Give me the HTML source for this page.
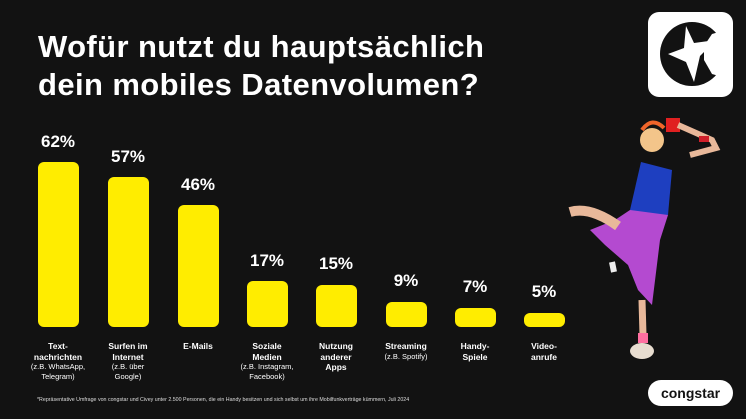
<!DOCTYPE html>
<html><head><meta charset="utf-8"><style>
body{margin:0;width:746px;height:419px;background:#121212;overflow:hidden;position:relative;font-family:"Liberation Sans",sans-serif;color:#fff}
h1{position:absolute;left:38px;top:28px;margin:0;font-size:31px;line-height:38px;font-weight:bold;letter-spacing:0.4px}
.bar{position:absolute;width:41px;background:#ffed00;border-radius:6px;bottom:92px}
.pct{position:absolute;width:80px;text-align:center;font-weight:bold;font-size:17px}
.lab{position:absolute;top:341px;width:90px;text-align:center;font-size:8.5px;font-weight:bold;line-height:10.5px}
.lab span{font-weight:normal;font-size:7.5px;display:block;line-height:10px}
.foot{position:absolute;left:37px;top:397px;font-size:5.3px;color:#ddd}
</style></head><body>
<h1>Wofür nutzt du hauptsächlich<br>dein mobiles Datenvolumen?</h1>

<div class="bar" style="left:38px;top:162px"></div><div class="pct" style="left:18px;top:132px">62%</div>
<div class="bar" style="left:108px;top:177px"></div><div class="pct" style="left:88px;top:147px">57%</div>
<div class="bar" style="left:178px;top:205px"></div><div class="pct" style="left:158px;top:175px">46%</div>
<div class="bar" style="left:247px;top:281px"></div><div class="pct" style="left:227px;top:251px">17%</div>
<div class="bar" style="left:316px;top:285px"></div><div class="pct" style="left:296px;top:254px">15%</div>
<div class="bar" style="left:386px;top:302px"></div><div class="pct" style="left:366px;top:271px">9%</div>
<div class="bar" style="left:455px;top:308px"></div><div class="pct" style="left:435px;top:277px">7%</div>
<div class="bar" style="left:524px;top:313px"></div><div class="pct" style="left:504px;top:282px">5%</div>

<div class="lab" style="left:13px">Text-<br>nachrichten<span>(z.B. WhatsApp,<br>Telegram)</span></div>
<div class="lab" style="left:83px">Surfen im<br>Internet<span>(z.B. über<br>Google)</span></div>
<div class="lab" style="left:153px">E-Mails</div>
<div class="lab" style="left:222px">Soziale<br>Medien<span>(z.B. Instagram,<br>Facebook)</span></div>
<div class="lab" style="left:291px">Nutzung<br>anderer<br>Apps</div>
<div class="lab" style="left:361px">Streaming<span>(z.B. Spotify)</span></div>
<div class="lab" style="left:430px">Handy-<br>Spiele</div>
<div class="lab" style="left:499px">Video-<br>anrufe</div>

<div class="foot">*Repräsentative Umfrage von congstar und Civey unter 2.500 Personen, die ein Handy besitzen und sich selbst um ihre Mobilfunkverträge kümmern, Juli 2024</div>

<svg style="position:absolute;left:0;top:0" width="746" height="419">
<rect x="648" y="12" width="85" height="85" rx="11" fill="#fff"/>
<circle cx="692" cy="54" r="32" fill="#121212"/>
<path d="M712,34 L726,30 L726,78 L712,74 L704,60 L704,46 Z" fill="#fff"/>
<polygon points="686,26 694,43 716,40 700,56 694,82 686,62 668,54 684,48" fill="#fff"/>
<!-- person -->
<circle cx="652" cy="140" r="12" fill="#f3c58a"/>
<path d="M642,130 q10,-14 22,-2" stroke="#f0652a" stroke-width="4" fill="none"/>
<rect x="666" y="118" width="14" height="14" fill="#e02020"/>
<path d="M678,125 L712,140 L716,148 L690,155" stroke="#e8b89a" stroke-width="6" fill="none"/>
<rect x="699" y="136" width="10" height="6" fill="#d0202a"/>
<polygon points="641,162 672,170 668,215 647,225 630,210" fill="#1e3fc0"/>
<polygon points="630,210 668,215 660,240 652,305 638,290 628,265 605,245 590,230 615,220" fill="#b44ad0"/>
<path d="M570,212 q20,-6 48,14" stroke="#e8b89a" stroke-width="10" fill="none"/>
<path d="M612,262 L614,272" stroke="#eee" stroke-width="6"/>
<path d="M642,300 L643,335" stroke="#e8b89a" stroke-width="7"/>
<rect x="638" y="333" width="10" height="10" fill="#ff6fa0"/>
<ellipse cx="642" cy="351" rx="12" ry="8" fill="#e8ddd0"/>
<rect x="648" y="380" width="85" height="26" rx="13" fill="#fff"/>
<text x="690.5" y="398" text-anchor="middle" font-family="Liberation Sans,sans-serif" font-size="14" font-weight="bold" fill="#121212">congstar</text>
</svg>
</body></html>
